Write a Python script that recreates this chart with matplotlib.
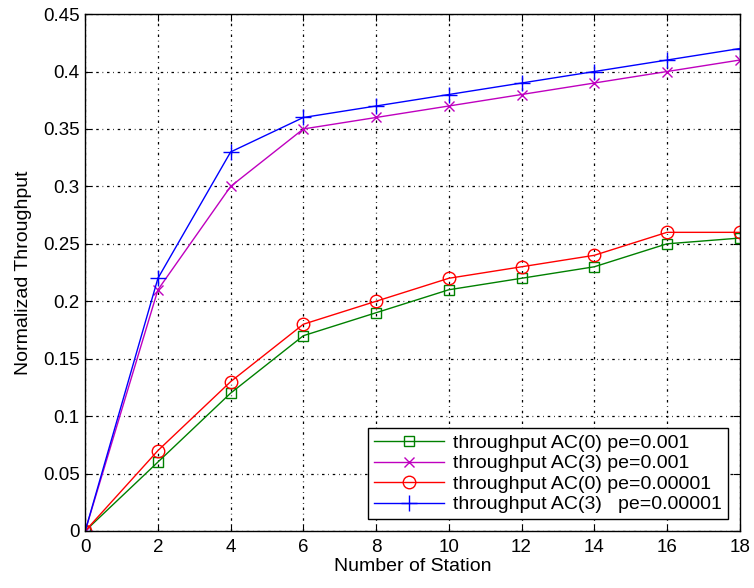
import matplotlib
matplotlib.use("Agg")
import matplotlib.pyplot as plt

stations = [0, 2, 4, 6, 8, 10, 12, 14, 16, 18]
ac0_pe001 = [0, 0.06, 0.12, 0.17, 0.19, 0.21, 0.22, 0.23, 0.25, 0.255]
ac3_pe001 = [0, 0.21, 0.30, 0.35, 0.36, 0.37, 0.38, 0.39, 0.40, 0.41]
ac0_pe00001 = [0, 0.07, 0.13, 0.18, 0.20, 0.22, 0.23, 0.24, 0.26, 0.26]
ac3_pe00001 = [0, 0.22, 0.33, 0.36, 0.37, 0.38, 0.39, 0.40, 0.41, 0.42]
labels = ["throughput AC(0) pe=0.001", "throughput AC(3) pe=0.001",
          "throughput AC(0) pe=0.00001", "throughput AC(3)   pe=0.00001"]

plt.rcParams['font.family'] = ['Liberation Sans', 'DejaVu Sans']
fig = plt.figure(figsize=(7.54, 5.88), dpi=100)
ax = fig.add_axes([0.113, 0.097, 0.868, 0.879])

ax.plot(stations, ac0_pe001, color='#008000', marker='s', mfc='none', ms=7, lw=1, label=labels[0])
ax.plot(stations, ac3_pe001, color='#bf00bf', marker='x', ms=7, lw=1, label=labels[1])
ax.plot(stations, ac0_pe00001, color='#ff0000', marker='o', mfc='none', ms=9, lw=1, label=labels[2])
ax.plot(stations, ac3_pe00001, color='#0000ff', marker='+', ms=11, lw=1, label=labels[3])

ax.set_xlim(0, 18)
ax.set_ylim(0, 0.45)
ax.set_xticks(range(0, 19, 2))
ax.set_yticks([0, 0.05, 0.1, 0.15, 0.2, 0.25, 0.3, 0.35, 0.4, 0.45])
ax.set_yticklabels(['0', '0.05', '0.1', '0.15', '0.2', '0.25', '0.3', '0.35', '0.4', '0.45'])
ax.grid(True, color='black', linestyle=(0, (2, 3, 0.6, 3)), linewidth=0.9)
ax.tick_params(direction='in', top=True, right=True, labelsize=13.5, length=5)
ax.tick_params(axis='x', pad=6)
ax.tick_params(axis='y', pad=4)
for s in ax.spines.values():
    s.set_linewidth(1)
ax.set_xlabel('Number of Station', fontsize=14, labelpad=1)
ax.set_ylabel('Normalizad Throughput', fontsize=14, labelpad=8)

leg = ax.legend(loc='lower right', fontsize=14, fancybox=False, framealpha=1,
                edgecolor='black', borderaxespad=0.6, handlelength=3.6,
                labelspacing=0.15, borderpad=0.3, handletextpad=0.5)
leg.get_frame().set_linewidth(1)

fig.savefig('out.png', dpi=100)
